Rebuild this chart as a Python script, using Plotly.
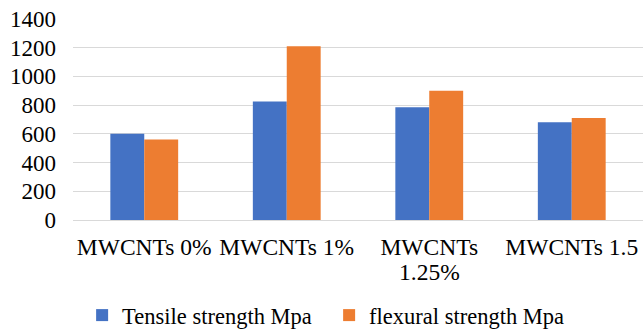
import plotly.graph_objects as go

categories = ["MWCNTs 0%", "MWCNTs 1%", "MWCNTs 1.25%", "MWCNTs 1.5"]
# category labels as they are broken over lines on the axis
label_lines = [["MWCNTs 0%"], ["MWCNTs 1%"], ["MWCNTs", "1.25%"], ["MWCNTs 1.5"]]
tensile = [600, 825, 785, 680]
flexural = [560, 1210, 900, 710]

font_family = "Liberation Serif"
tick_size = 23.5

fig = go.Figure()
fig.add_trace(go.Bar(name="Tensile strength Mpa", x=categories, y=tensile,
                     marker=dict(color="#4472C4", line=dict(width=0))))
fig.add_trace(go.Bar(name="flexural strength Mpa", x=categories, y=flexural,
                     marker=dict(color="#ED7D31", line=dict(width=0))))

# second lines of wrapped category labels, set tighter than a <br> break would
for cat, lines in zip(categories, label_lines):
    if len(lines) > 1:
        fig.add_annotation(x=cat, xref="x", y=-0.259, yref="paper", yanchor="middle",
                           text=lines[1], showarrow=False,
                           font=dict(family=font_family, size=tick_size, color="#000000"))

fig.update_layout(
    width=643, height=330,
    margin=dict(l=73, r=0, t=19, b=110, autoexpand=False),
    paper_bgcolor="white", plot_bgcolor="white",
    barmode="group", bargap=0.524, bargroupgap=0,
    font=dict(family=font_family, size=23, color="#000000"),
    legend=dict(orientation="h", x=0.016, xanchor="left", y=-0.475, yanchor="middle",
                font=dict(family=font_family, size=22.5, color="#000000"),
                itemwidth=30, entrywidth=202, traceorder="normal"),
    xaxis=dict(showgrid=False, showline=False, ticks="", tickangle=0,
               tickmode="array", tickvals=categories,
               ticktext=[lines[0] for lines in label_lines],
               tickfont=dict(family=font_family, size=tick_size, color="#000000"),
               ticklabelstandoff=10),
    yaxis=dict(range=[0, 1400], dtick=200, showgrid=True, gridcolor="#d9d9d9",
               gridwidth=1, zeroline=True, zerolinecolor="#d9d9d9", zerolinewidth=1,
               showline=False, ticks="",
               tickfont=dict(family=font_family, size=23, color="#000000"),
               ticklabelstandoff=16),
)

fig.write_html("out.html")
